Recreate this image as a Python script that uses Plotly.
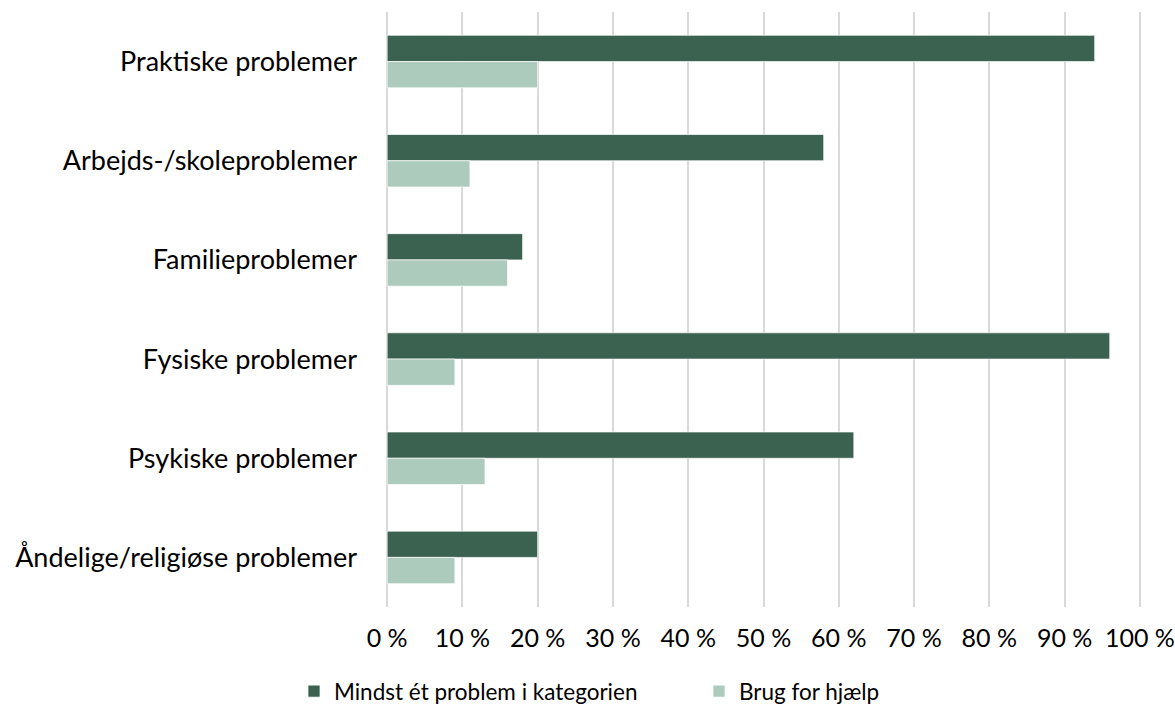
import plotly.graph_objects as go

categories = [
    "Praktiske problemer",
    "Arbejds-/skoleproblemer",
    "Familieproblemer",
    "Fysiske problemer",
    "Psykiske problemer",
    "Åndelige/religiøse problemer",
]
mindst_et_problem = [94, 58, 18, 96, 62, 20]
brug_for_hjaelp = [20, 11, 16, 9, 13, 9]
tick_values = [0, 10, 20, 30, 40, 50, 60, 70, 80, 90, 100]
tick_labels = ["0 %", "10 %", "20 %", "30 %", "40 %", "50 %",
               "60 %", "70 %", "80 %", "90 %", "100 %"]

FONT = "Lato"
DARK = "#3B6150"
LIGHT = "#ADCBBD"
W, H = 1175, 707

fig = go.Figure()
fig.add_trace(go.Bar(
    y=categories, x=mindst_et_problem, orientation="h",
    name="Mindst ét problem i kategorien", legend="legend",
    marker=dict(color=DARK, line=dict(color="rgba(255,255,255,0.7)", width=1)),
))
fig.add_trace(go.Bar(
    y=categories, x=brug_for_hjaelp, orientation="h",
    name="Brug for hjælp", legend="legend2",
    marker=dict(color=LIGHT, line=dict(color="rgba(255,255,255,0.7)", width=1)),
))

legend_style = dict(
    orientation="h", xref="container", yref="container", xanchor="left",
    y=(H - 670) / H, yanchor="top", font=dict(family=FONT, size=22.5),
    itemwidth=30, bgcolor="rgba(0,0,0,0)",
)

fig.update_layout(
    width=W, height=H,
    margin=dict(l=386, r=34, t=12, b=100, autoexpand=False),
    barmode="group", bargap=0.47, bargroupgap=0,
    plot_bgcolor="white", paper_bgcolor="white",
    font=dict(family=FONT, size=26, color="#000000"),
    showlegend=True,
    legend=dict(x=(334 - 40) / W, **legend_style),
    legend2=dict(x=(739 - 40) / W, **legend_style),
)
fig.update_xaxes(
    range=[-0.15, 100.15], tickmode="array", tickvals=tick_values, ticktext=tick_labels,
    showgrid=True, gridcolor="#D9D9D9", gridwidth=2,
    zeroline=False, showline=False, ticks="", automargin=False,
    ticklabelstandoff=14,
    tickfont=dict(family=FONT, size=25),
)
fig.update_yaxes(
    autorange="reversed", showgrid=False, showline=False, ticks="",
    automargin=False, ticklabelstandoff=28,
    tickfont=dict(family=FONT, size=27),
)

fig.write_html("out.html")
